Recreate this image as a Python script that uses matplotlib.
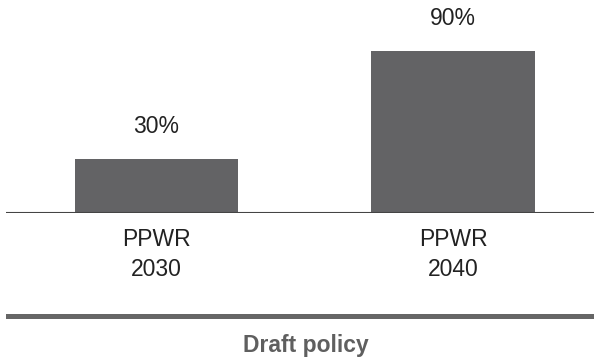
import matplotlib
matplotlib.use('Agg')
import matplotlib.pyplot as plt
from matplotlib.lines import Line2D

plt.rcParams['font.family'] = ['Liberation Sans', 'DejaVu Sans']

categories = ['PPWR\n2030', 'PPWR\n2040']
values = [30, 90]
value_labels = ['30%', '90%']
group_label = 'Draft policy'

fig = plt.figure(figsize=(5.94, 3.58), dpi=100)
ax = fig.add_axes([6/594, 145/358, 588/594, 213/358])

x = range(len(categories))
bars = ax.bar(x, values, width=0.55, color='#636365', zorder=2)
for b, lab in zip(bars, value_labels):
    ax.annotate(lab, (b.get_x() + b.get_width()/2, b.get_height()),
                xytext=(0, 15), textcoords='offset points',
                ha='center', va='bottom', fontsize=16.5, color='#222222')

ax.axhline(0, color='#444444', lw=1.5, zorder=3)
ax.set_xlim(-0.5076, 1.4755)
ax.set_ylim(0, 118.3)
ax.set_xticks(list(x))
ax.set_xticklabels(categories, fontsize=16.5, color='#222222', linespacing=1.4)
ax.tick_params(axis='x', length=0, pad=11)
ax.set_yticks([])
for s in ax.spines.values():
    s.set_visible(False)

# group bracket line and label under the chart
fig.add_artist(Line2D([8/594, 1.0], [42.5/358, 42.5/358], color='#666666', lw=3.6,
                      transform=fig.transFigure))
fig.text(306/594, 6/358, group_label, ha='center', va='baseline',
         fontsize=16.5, fontweight='bold', color='#5f5f5f')

fig.savefig('out.png', dpi=100)
